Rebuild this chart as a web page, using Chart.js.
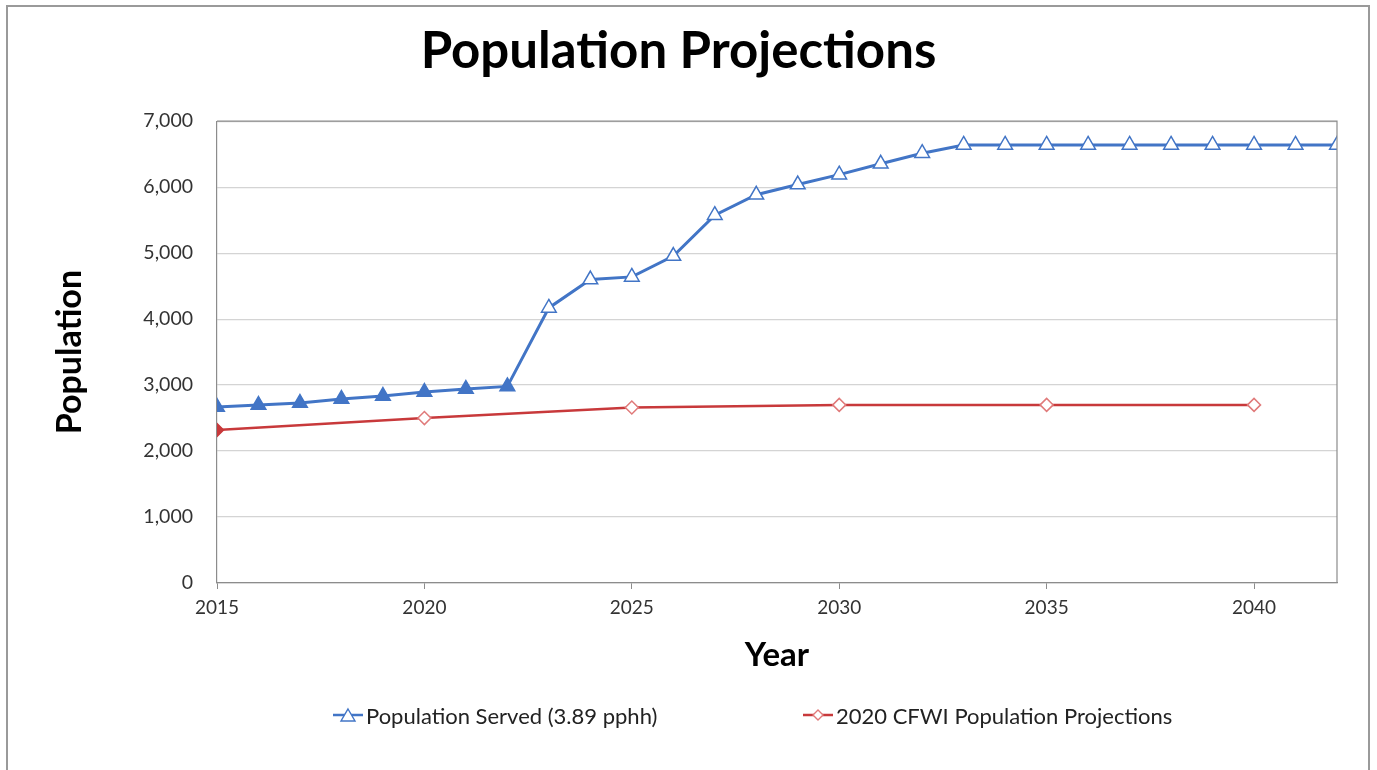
<!DOCTYPE html>
<html>
<head>
<meta charset="utf-8">
<title>Population Projections</title>
<script src="https://cdn.jsdelivr.net/npm/chart.js@4.4.1/dist/chart.umd.min.js"></script>
<style>
  html, body { margin: 0; padding: 0; background: #fff; overflow: hidden; }
  #wrap { position: relative; width: 1377px; height: 770px; }
  #frame {
    position: absolute; left: 6px; top: 5px; width: 1360px; height: 800px;
    border: 2px solid #9a9a9a; pointer-events: none;
  }
  #legend {
    position: absolute; top: 701px; left: 0; width: 1377px; height: 28px;
    font-family: Lato, sans-serif; font-size: 22px; color: #222;
  }
  .item { position: absolute; top: 0; display: flex; align-items: center; height: 28px; }
  .item svg { margin-right: 3px; }
</style>
</head>
<body>
<div id="wrap">
  <canvas id="popChart" width="1377" height="770"></canvas>
  <div id="frame"></div>
  <div id="legend"></div>
</div>
<script>
  const years = [
    2015, 2016, 2017, 2018, 2019, 2020, 2021, 2022, 2023, 2024, 2025, 2026, 2027, 2028,
    2029, 2030, 2031, 2032, 2033, 2034, 2035, 2036, 2037, 2038, 2039, 2040, 2041, 2042
  ];
  const populationServed = [
    2667, 2697, 2727, 2788, 2833, 2894, 2940, 2980, 4170, 4600, 4640, 4955, 5576, 5885,
    6040, 6190, 6355, 6515, 6640, 6640, 6640, 6640, 6640, 6640, 6640, 6640, 6640, 6640
  ];
  const cfwiYears = [2015, 2020, 2025, 2030, 2035, 2040];
  const cfwiPopulation = [2320, 2500, 2660, 2700, 2700, 2700];
  const yTicks = [0, 1000, 2000, 3000, 4000, 5000, 6000, 7000];

  const servedLabel = "Population Served (3.89 pphh)";
  const cfwiLabel = "2020 CFWI Population Projections";

  const blue = "#4275c6";
  const red = "#c8393b";

  // draws the top and right sides of the plot box
  const plotFrame = {
    id: "plotFrame",
    afterDatasetsDraw(chart) {
      const a = chart.chartArea, c = chart.ctx;
      c.save();
      c.strokeStyle = "#8c8c8c";
      c.lineWidth = 1.2;
      c.beginPath();
      c.moveTo(a.left, a.top);
      c.lineTo(a.right, a.top);
      c.lineTo(a.right, a.bottom);
      c.stroke();
      c.restore();
    }
  };

  Chart.defaults.font.family = "Lato, sans-serif";
  Chart.defaults.color = "#333";

  const ctx = document.getElementById("popChart").getContext("2d");
  const chart = new Chart(ctx, {
    type: "line",
    data: {
      datasets: [{
        label: servedLabel,
        data: years.map((yr, i) => ({ x: yr, y: populationServed[i] })),
        borderColor: blue,
        borderWidth: 3,
        pointStyle: "triangle",
        pointRadius: 8.5,
        pointBorderWidth: 1.5,
        pointBorderColor: blue,
        pointBackgroundColor: c => c.raw && c.raw.x <= 2022 ? blue : "#fff",
        tension: 0
      }, {
        label: cfwiLabel,
        data: cfwiYears.map((yr, i) => ({ x: yr, y: cfwiPopulation[i] })),
        borderColor: red,
        borderWidth: 2.5,
        pointStyle: "rectRot",
        pointRadius: 6.5,
        pointBorderWidth: 1.5,
        pointBorderColor: c => c.raw && c.raw.x <= 2015 ? red : "#e07a7a",
        pointBackgroundColor: c => c.raw && c.raw.x <= 2015 ? red : "#fff",
        tension: 0
      }]
    },
    options: {
      responsive: false,
      animation: false,
      layout: { padding: { left: 20, right: 40, top: 0, bottom: 77 } },
      scales: {
        x: {
          type: "linear",
          min: 2015,
          max: 2042,
          afterFit: s => { s.height = 110; },
          ticks: {
            stepSize: 5,
            includeBounds: false,
            padding: 7,
            font: { size: 19 },
            color: "#333",
            callback: v => String(v)
          },
          grid: { drawOnChartArea: false, drawTicks: true, tickLength: 6, color: "#8c8c8c" },
          border: { color: "#8c8c8c", width: 1.2 },
          title: {
            display: true,
            text: "Year",
            font: { size: 33, weight: "bold" },
            color: "#000",
            padding: { top: 0, bottom: 18 }
          }
        },
        y: {
          min: 0,
          max: 7000,
          afterFit: s => { s.width = 197; },
          afterBuildTicks: s => { s.ticks = yTicks.map(v => ({ value: v })); },
          ticks: {
            padding: 24,
            font: { size: 19.5 },
            color: "#333",
            callback: v => v.toLocaleString("en-US")
          },
          grid: { color: "#d4d4d4", drawTicks: false, lineWidth: 1.2 },
          border: { color: "#8c8c8c", width: 1.2 },
          title: {
            display: true,
            text: "Population",
            font: { size: 34, weight: "bold" },
            color: "#000",
            padding: { top: 30, bottom: 0 }
          }
        }
      },
      plugins: {
        legend: { display: false },
        tooltip: { enabled: false },
        title: {
          display: true,
          text: "Population Projections",
          color: "#000",
          font: { size: 51, weight: "bold" },
          padding: { top: 21, bottom: 39 }
        }
      }
    },
    plugins: [plotFrame]
  });

  // legend below the chart, line with marker like the original
  const legendItems = [
    { text: servedLabel, color: blue, left: 333,
      marker: '<polygon points="15,4 22,16 8,16" fill="#fff" stroke="' + blue + '" stroke-width="1.4"/>' },
    { text: cfwiLabel, color: red, left: 803,
      marker: '<polygon points="15,5 20,10 15,15 10,10" fill="#fff" stroke="#e07a7a" stroke-width="1.4"/>' }
  ];
  const legend = document.getElementById("legend");
  legendItems.forEach(it => {
    const el = document.createElement("div");
    el.className = "item";
    el.style.left = it.left + "px";
    el.innerHTML =
      '<svg width="30" height="20" viewBox="0 0 30 20">' +
      '<line x1="0" y1="10" x2="30" y2="10" stroke="' + it.color + '" stroke-width="2.5"/>' +
      it.marker + '</svg><span>' + it.text + '</span>';
    legend.appendChild(el);
  });
</script>
</body>
</html>
